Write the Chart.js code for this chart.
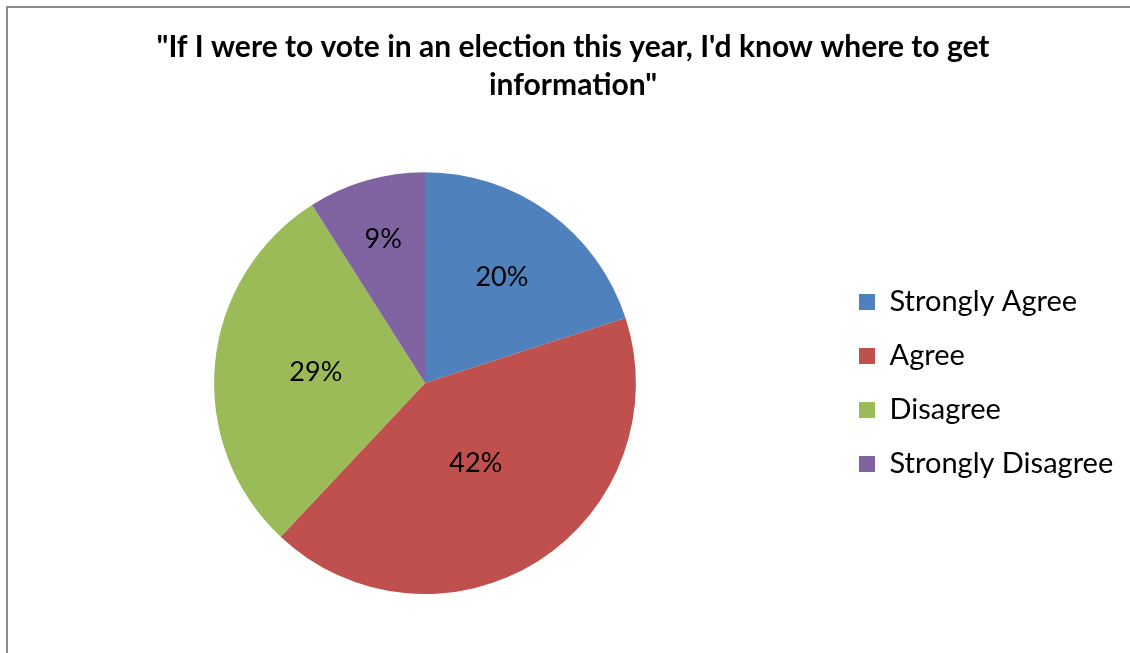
<!DOCTYPE html>
<html><head><meta charset="utf-8">
<script src="https://cdn.jsdelivr.net/npm/chart.js@4/dist/chart.umd.min.js"></script>
<style>
html,body{margin:0;padding:0;background:#fff;overflow:hidden;}
#frame{position:absolute;left:6px;top:6px;width:1200px;height:700px;border:2px solid #8c8c8c;box-sizing:border-box;}
#wrap{position:absolute;left:0;top:0;width:1130px;height:653px;}
</style></head>
<body>
<div id="frame"></div>
<div id="wrap"><canvas id="c" width="1130" height="653"></canvas></div>
<script>
const titleLines = ['"If I were to vote in an election this year, I\'d know where to get', 'information"'];
const categories = ['Strongly Agree', 'Agree', 'Disagree', 'Strongly Disagree'];
const percentValues = [20, 42, 29, 9];
const sliceColors = ['#4F81BD', '#C0504D', '#9BBB59', '#8064A2'];
const labelRadiusFactors = [0.62, 0.45, 0.52, 0.71];

const FONT = 'Lato, "Open Sans", "Liberation Sans", sans-serif';
const LEGEND_WIDTH = 280;
const TITLE_SHIFT = 8;
const LEGEND_SHIFT = -16;

const sliceLabels = {
  id: 'sliceLabels',
  afterDatasetsDraw(chart) {
    const ctx = chart.ctx;
    const meta = chart.getDatasetMeta(0);
    ctx.save();
    ctx.font = '27px ' + FONT;
    ctx.fillStyle = '#000';
    ctx.textAlign = 'center';
    ctx.textBaseline = 'middle';
    meta.data.forEach((arc, i) => {
      const mid = (arc.startAngle + arc.endAngle) / 2;
      const r = arc.outerRadius * labelRadiusFactors[i];
      ctx.fillText(percentValues[i] + '%', arc.x + Math.cos(mid) * r, arc.y + Math.sin(mid) * r);
    });
    ctx.restore();
  }
};

const layoutTweaks = {
  id: 'layoutTweaks',
  beforeLayout(chart) {
    const lg = chart.legend;
    if (lg && !lg._patched) {
      const orig = lg.fit.bind(lg);
      lg.fit = function () { orig(); this.width = LEGEND_WIDTH; };
      lg._patched = true;
    }
  },
  afterLayout(chart) {
    const tb = chart.titleBlock;
    if (tb) { tb.left += TITLE_SHIFT; tb.right += TITLE_SHIFT; }
    const lg = chart.legend;
    if (lg) { lg.left += LEGEND_SHIFT; lg.right += LEGEND_SHIFT; }
  }
};

new Chart(document.getElementById('c'), {
  type: 'pie',
  data: {
    labels: categories,
    datasets: [{ data: percentValues, backgroundColor: sliceColors, borderWidth: 0 }]
  },
  options: {
    responsive: false,
    animation: false,
    layout: { padding: { left: 0, right: 0, top: 0, bottom: 59 } },
    plugins: {
      tooltip: { enabled: false },
      title: {
        display: true,
        text: titleLines,
        color: '#000',
        font: { family: FONT, size: 30, weight: 'bold', lineHeight: 1.27 },
        padding: { top: 28, bottom: 68 }
      },
      legend: {
        position: 'right',
        fullSize: false,
        labels: {
          color: '#000',
          font: { family: FONT, size: 29 },
          boxWidth: 16,
          boxHeight: 16,
          padding: 25
        }
      }
    }
  },
  plugins: [sliceLabels, layoutTweaks]
});
</script>
</body></html>
